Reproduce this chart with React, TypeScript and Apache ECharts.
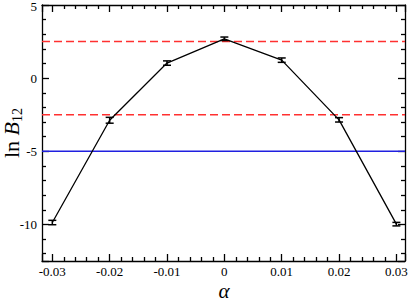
import React, { useEffect, useRef } from "react";
import * as echarts from "echarts";

const alphaValues = [-0.03, -0.02, -0.01, 0, 0.01, 0.02, 0.03];
const lnB12 = [-9.87, -2.88, 1.03, 2.69, 1.23, -2.85, -9.98];
const errors = [0.15, 0.2, 0.15, 0.12, 0.15, 0.15, 0.12];
const redLevels = [2.5, -2.5];
const blueLevel = -5;

const FONT = "'Liberation Serif', 'Times New Roman', serif";

export default function App() {
  const ref = useRef<HTMLDivElement>(null);
  useEffect(() => {
    if (!ref.current) return;
    const chart = echarts.init(ref.current, null, { renderer: "svg" });
    const xMin = -0.0318;
    const xMax = 0.0315;
    const yMin = -12.5;
    const yMax = 5;
    const xFmt = (v: number) => {
      const k = Math.round(v / 0.01);
      if (Math.abs(v - k * 0.01) > 1e-6) return "";
      return k === 0 ? "0" : (k / 100).toFixed(2);
    };
    const yFmt = (v: number) => {
      const k = Math.round(v / 5);
      if (Math.abs(v - k * 5) > 1e-6) return "";
      if (Math.abs(v - yMax) < 1e-6) return "{top|" + String(k * 5) + "}";
      return String(k * 5);
    };
    const baseX = (pos: "bottom" | "top", labels: boolean) => ({
      type: "value",
      position: pos,
      min: xMin,
      max: xMax,
      splitNumber: 5,
      axisLine: { show: true, onZero: false, lineStyle: { color: "#000", width: 1.3 } },
      axisTick: { show: true, inside: true, length: 7, lineStyle: { color: "#000", width: 1.3 } },
      minorTick: { show: true, splitNumber: 5, length: 4, lineStyle: { color: "#000", width: 1.3 } },
      splitLine: { show: false },
      axisLabel: {
        show: labels,
        formatter: xFmt,
        fontFamily: FONT,
        fontSize: 13,
        lineHeight: 13,
        color: "#000",
        margin: 4,
      },
    });
    const baseY = (pos: "left" | "right", labels: boolean) => ({
      type: "value",
      position: pos,
      min: yMin,
      max: yMax,
      splitNumber: 4,
      axisLine: { show: true, onZero: false, lineStyle: { color: "#000", width: 1.3 } },
      axisTick: { show: true, inside: true, length: 7, lineStyle: { color: "#000", width: 1.3 } },
      minorTick: { show: true, splitNumber: 5, length: 4, lineStyle: { color: "#000", width: 1.3 } },
      splitLine: { show: false },
      axisLabel: {
        show: labels,
        formatter: yFmt,
        fontFamily: FONT,
        fontSize: 13,
        lineHeight: 13,
        color: "#000",
        margin: 5,
        rich: {
          top: { fontFamily: FONT, fontSize: 13, lineHeight: 13, color: "#000", padding: [3, 0, 0, 0] },
        },
      },
    });
    const xAxis: any[] = [baseX("bottom", true), baseX("top", false)];
    const yAxis: any[] = [baseY("left", true), baseY("right", false)];
    const pts = alphaValues.map((x, i) => [x, lnB12[i]]);
    const errData = alphaValues.map((x, i) => [x, lnB12[i], errors[i]]);
    chart.setOption({
      animation: false,
      backgroundColor: "#fff",
      textStyle: { fontFamily: FONT },
      grid: { left: 42, right: 4, top: 5, bottom: 41, containLabel: false, outerBoundsMode: "none" },
      xAxis,
      yAxis,
      graphic: [
        {
          type: "text",
          x: 224,
          y: 291,
          style: {
            text: "α",
            font: "italic 21px " + FONT,
            fill: "#000",
            align: "center",
            verticalAlign: "middle",
          },
        },
        {
          type: "text",
          x: 11,
          y: 133,
          rotation: Math.PI / 2,
          style: {
            text: "{a|ln }{b|B}{c|12}",
            fill: "#000",
            align: "center",
            verticalAlign: "middle",
            rich: {
              a: { fontFamily: FONT, fontSize: 22, fill: "#000", lineHeight: 26, verticalAlign: "middle" },
              b: { fontFamily: FONT, fontSize: 22, fontStyle: "italic", fill: "#000", lineHeight: 26, verticalAlign: "middle" },
              c: { fontFamily: FONT, fontSize: 14, fill: "#000", lineHeight: 26, verticalAlign: "bottom" },
            },
          },
        },
      ],
      series: [
        {
          type: "line",
          data: [[xMin, redLevels[0]], [xMax, redLevels[0]]],
          symbol: "none",
          lineStyle: { color: "#ff3030", width: 1.6, type: [8, 4] },
          silent: true,
        },
        {
          type: "line",
          data: [[xMin, redLevels[1]], [xMax, redLevels[1]]],
          symbol: "none",
          lineStyle: { color: "#ff3030", width: 1.6, type: [8, 4] },
          silent: true,
        },
        {
          type: "line",
          data: [[xMin, blueLevel], [xMax, blueLevel]],
          symbol: "none",
          lineStyle: { color: "#2020e0", width: 1.6 },
          silent: true,
        },
        {
          type: "line",
          data: pts,
          symbol: "none",
          lineStyle: { color: "#000", width: 1.3 },
        },
        {
          type: "custom",
          data: errData,
          renderItem: (params: any, api: any) => {
            const x = api.value(0);
            const y = api.value(1);
            const e = api.value(2);
            const top = api.coord([x, y + e]);
            const bot = api.coord([x, y - e]);
            const hw = 4;
            const style = { stroke: "#000", lineWidth: 1.5 };
            return {
              type: "group",
              children: [
                { type: "line", shape: { x1: top[0], y1: top[1], x2: bot[0], y2: bot[1] }, style },
                { type: "line", shape: { x1: top[0] - hw, y1: top[1], x2: top[0] + hw, y2: top[1] }, style },
                { type: "line", shape: { x1: bot[0] - hw, y1: bot[1], x2: bot[0] + hw, y2: bot[1] }, style },
              ],
            };
          },
          z: 5,
        },
      ],
    });
    return () => chart.dispose();
  }, []);
  return <div ref={ref} style={{ width: 409, height: 302, position: "absolute", left: 0, top: 0 }} />;
}
